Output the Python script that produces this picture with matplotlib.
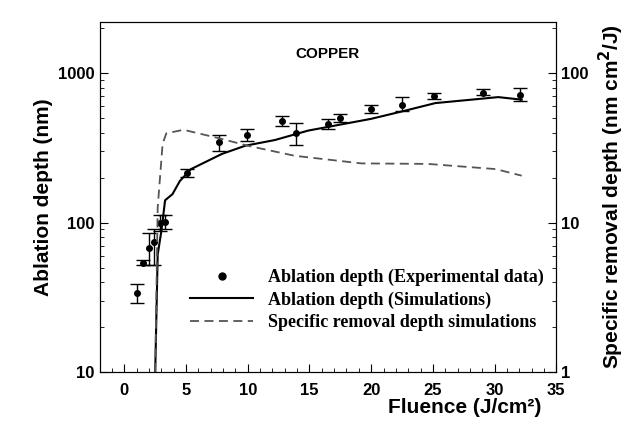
import matplotlib
matplotlib.use("Agg")
import matplotlib.pyplot as plt
from matplotlib.lines import Line2D
from matplotlib.ticker import FixedLocator, NullFormatter, LogLocator

exp_F = [1.0, 1.5, 2.0, 2.4, 2.9, 3.3, 5.1, 7.7, 9.9, 12.8, 13.9, 16.5, 17.5, 20.0, 22.5, 25.1, 29.1, 32.1]
exp_D = [34, 54, 68, 74, 100, 101, 216, 344, 386, 477, 396, 454, 500, 578, 615, 703, 741, 718]
exp_lo = [29, 52, 52, 52, 88, 90, 203, 300, 350, 440, 330, 425, 470, 545, 560, 670, 710, 650]
exp_hi = [39, 56, 85, 90, 112, 112, 230, 385, 425, 520, 465, 490, 530, 610, 690, 740, 780, 800]

sim_F = [2.5, 2.7, 3.0, 3.3, 3.9, 4.5, 5.4, 7.9, 9.8, 12.2, 14.9, 20.0, 22.5, 25.2, 30.3, 32.2]
sim_D = [10, 61, 88, 141, 155, 190, 228, 288, 327, 357, 413, 495, 555, 631, 692, 665]

srd_F = [2.5, 2.7, 3.1, 3.4, 4.8, 7.9, 10.0, 13.8, 19.2, 24.6, 30.1, 32.2]
srd_V = [1, 12.6, 33.7, 39.6, 41.8, 36.3, 32.7, 28.0, 24.9, 24.7, 22.8, 20.6]

plt.rcParams['font.family'] = ['Liberation Sans', 'DejaVu Sans']
plt.rcParams['font.weight'] = 'bold'
fig = plt.figure(figsize=(6.35, 4.25), dpi=100)
ax = fig.add_axes([0.157, 0.125, 0.719, 0.823])
ax2 = ax.twinx()

yerr = [[d - l for d, l in zip(exp_D, exp_lo)], [h - d for d, h in zip(exp_D, exp_hi)]]
ax.errorbar(exp_F, exp_D, yerr=yerr, fmt='o', color='black', ms=4, capsize=5, elinewidth=1, capthick=1)
l1, = ax.plot(sim_F, sim_D, color='black', lw=1.5, label='Ablation depth (Simulations)')
l2, = ax2.plot(srd_F, srd_V, color='#555555', lw=1.3, ls=(0, (5, 3)), label='Specific removal depth simulations')
p0 = Line2D([], [], ls='none', marker='o', color='black', ms=5)

ax.set_yscale('log'); ax2.set_yscale('log')
ax.set_xlim(-2, 35)
ax.set_ylim(10, 2200); ax2.set_ylim(1, 220)
ax.set_xticks(range(0, 36, 5))
ax.xaxis.set_minor_locator(FixedLocator([x for x in range(-2, 36) if x % 5]))
for a in (ax, ax2):
    a.yaxis.set_major_locator(FixedLocator([1, 10, 100, 1000]))
    a.yaxis.set_minor_locator(LogLocator(base=10, subs=range(2, 10)))
    a.yaxis.set_minor_formatter(NullFormatter())
    a.tick_params(which='both', direction='in', labelsize=12)
    a.tick_params(which='major', length=6)
    a.tick_params(which='minor', length=3)
ax.set_yticklabels(['', '10', '100', '1000'])
ax2.set_yticklabels(['1', '10', '100', ''])
ax.tick_params(axis='x', which='both', top=False, pad=8)

ax.set_xlabel('Fluence (J/cm²)', fontsize=15, fontweight='bold', labelpad=0, x=0.8)
ax.set_ylabel('Ablation depth (nm)', fontsize=15, fontweight='bold', labelpad=4)
ax2.set_ylabel('Specific removal depth (nm cm$^{\\mathbf{2}}$/J)', fontsize=15, fontweight='bold', labelpad=6)
ax.text(0.5, 0.93, 'COPPER', transform=ax.transAxes, ha='center', va='top', fontsize=11, fontweight='bold')

leg = ax2.legend([p0, l1, l2], ['Ablation depth (Experimental data)', 'Ablation depth (Simulations)',
                               'Specific removal depth simulations'],
                 loc='lower right', bbox_to_anchor=(1.0, 0.08),
                 frameon=False, prop={'family': 'Liberation Serif', 'weight': 'bold', 'size': 13},
                 handlelength=3.5, borderpad=0.2, labelspacing=0.3)
fig.savefig('out.png', dpi=100)
